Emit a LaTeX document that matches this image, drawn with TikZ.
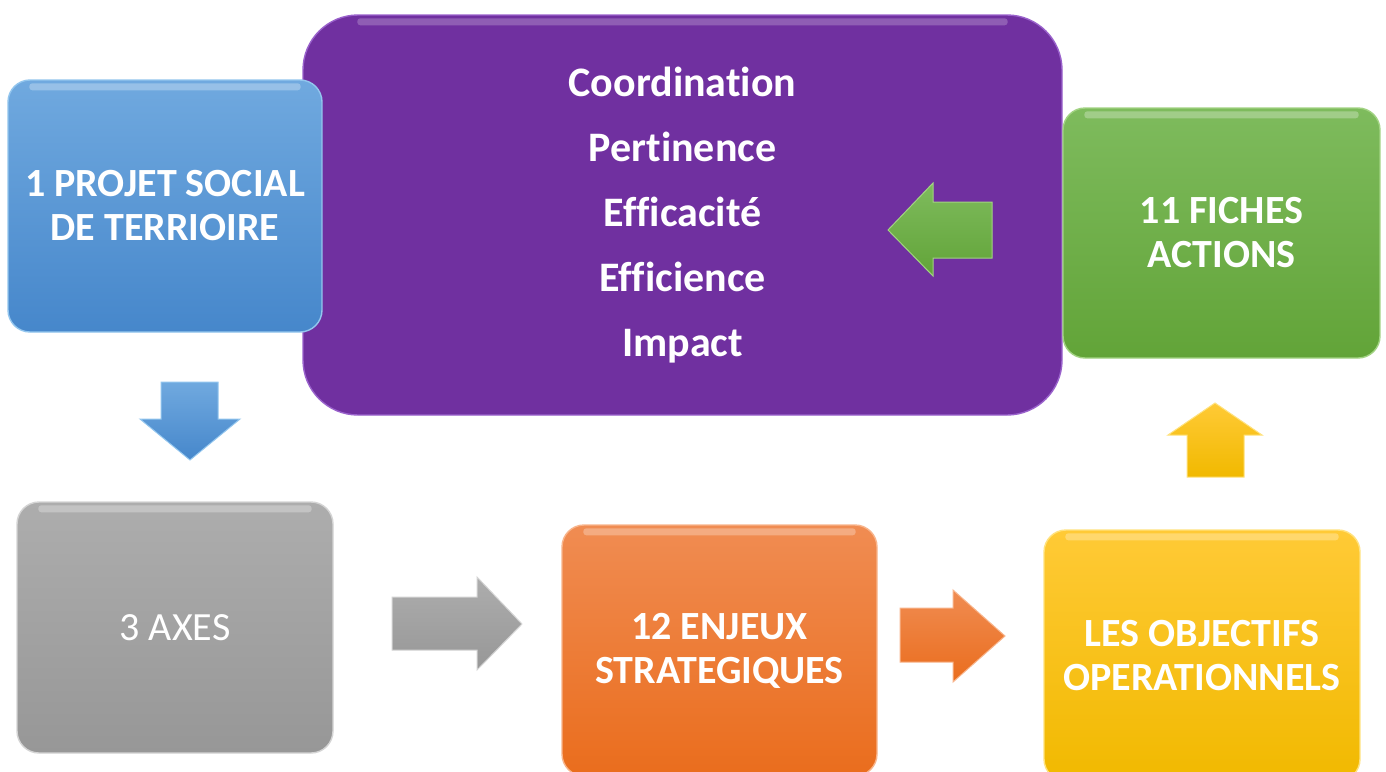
\documentclass[tikz,border=0pt]{standalone}
\usepackage{fontspec}
\setmainfont[Ligatures=NoCommon]{Carlito}
\usetikzlibrary{calc}
\definecolor{blueT}{HTML}{70A9DF}
\definecolor{blueB}{HTML}{4687CB}
\definecolor{blueE}{HTML}{93C6EE}
\definecolor{purpleF}{HTML}{7030A0}
\definecolor{purpleE}{HTML}{9A62CC}
\definecolor{greenT}{HTML}{7EBB5D}
\definecolor{greenB}{HTML}{62A438}
\definecolor{greenE}{HTML}{A2D383}
\definecolor{grayT}{HTML}{ADADAD}
\definecolor{grayB}{HTML}{979797}
\definecolor{grayE}{HTML}{D4D4D4}
\definecolor{orangeT}{HTML}{F08C52}
\definecolor{orangeB}{HTML}{EA6D1D}
\definecolor{orangeE}{HTML}{F8B58C}
\definecolor{yellowT}{HTML}{FFCA36}
\definecolor{yellowB}{HTML}{F1B900}
\definecolor{yellowE}{HTML}{FFE27E}
\newcommand\boxgloss[1]{\fill[white,opacity=0.28,rounded corners=3pt] ($(#1.north west)+(22,4)$) rectangle ($(#1.north east)+(-22,11)$);}
\tikzset{
  card/.style={rectangle, rounded corners=22pt, inner sep=0pt, align=center,
    text=white, line width=1.4pt,
    font=\fontsize{40}{44}\selectfont\bfseries},
  blockarrow/.style={line width=1pt, line join=miter},
}
\begin{document}
\begin{tikzpicture}[x=1pt,y=-1pt]
\useasboundingbox (0,0) rectangle (1386,771);
\fill[white] (0,0) rectangle (1386,771);

% purple central box
\node[card, rounded corners=55pt, minimum width=759pt, minimum height=400pt,
  fill=purpleF, draw=purpleE, font=\fontsize{42}{65}\selectfont\bfseries]
  (criteres) at (682.5,215)
  {Coordination\\Pertinence\\Efficacité\\Efficience\\Impact};
\fill[white,opacity=0.22,rounded corners=3pt] ($(criteres.north west)+(55,4)$) rectangle ($(criteres.north east)+(-55,11)$);

% blue box
\node[card, minimum width=314pt, minimum height=252pt,
  top color=blueT, bottom color=blueB, draw=blueE]
  (projet) at (165,206) {1 PROJET SOCIAL\\DE TERRIOIRE};
\boxgloss{projet}

% green box
\node[card, minimum width=317pt, minimum height=250pt,
  top color=greenT, bottom color=greenB, draw=greenE]
  (fiches) at (1221.5,233) {11 FICHES\\ACTIONS};
\boxgloss{fiches}

% gray box
\node[card, minimum width=316pt, minimum height=251pt,
  top color=grayT, bottom color=grayB, draw=grayE,
  font=\fontsize{40}{44}\selectfont]
  (axes) at (175,627.5) {3 AXES};
\boxgloss{axes}

% orange box
\node[card, minimum width=315pt, minimum height=251pt,
  top color=orangeT, bottom color=orangeB, draw=orangeE]
  (enjeux) at (719.5,650.5) {12 ENJEUX\\STRATEGIQUES};
\boxgloss{enjeux}

% yellow box
\node[card, minimum width=316pt, minimum height=251pt,
  top color=yellowT, bottom color=yellowB, draw=yellowE]
  (objectifs) at (1202,655.5) {LES OBJECTIFS\\OPERATIONNELS};
\boxgloss{objectifs}

% blue down arrow
\draw[blockarrow, top color=blueT, bottom color=blueB, draw=blueE]
  (161,382) -- (218,382) -- (218,419) -- (240,419) -- (190,460) -- (140,419) -- (161,419) -- cycle;
% gray right arrow
\draw[blockarrow, top color=grayT, bottom color=grayB, draw=grayE]
  (392,597) -- (477,597) -- (477,577) -- (522,624) -- (477,670) -- (477,650) -- (392,650) -- cycle;
% green left arrow
\draw[blockarrow, top color=greenT, bottom color=greenB, draw=greenE]
  (992,202) -- (933,202) -- (933,183) -- (888,230) -- (933,276) -- (933,258) -- (992,258) -- cycle;
% yellow up arrow
\draw[blockarrow, top color=yellowT, bottom color=yellowB, draw=yellowE]
  (1187,477) -- (1187,435) -- (1168,435) -- (1215,403) -- (1262,435) -- (1244,435) -- (1244,477) -- cycle;
% orange right arrow
\draw[blockarrow, top color=orangeT, bottom color=orangeB, draw=orangeE]
  (900,608) -- (953,608) -- (953,590) -- (1005,636) -- (953,682) -- (953,662) -- (900,662) -- cycle;
\end{tikzpicture}
\end{document}
